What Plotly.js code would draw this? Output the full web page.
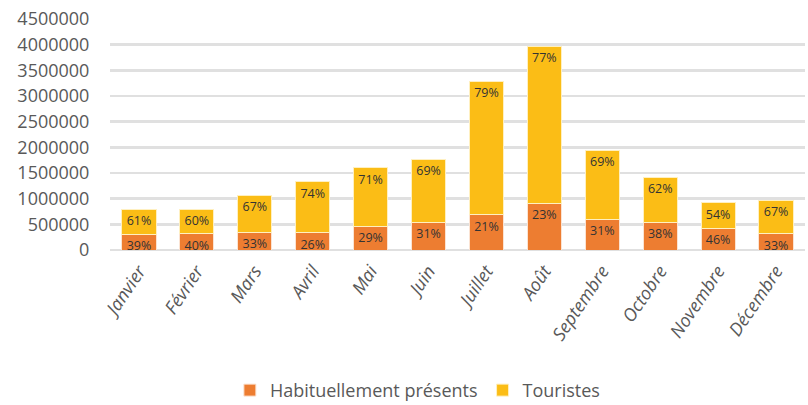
<!DOCTYPE html>
<html><head><meta charset="utf-8">
<script src="https://cdn.plot.ly/plotly-3.0.1.min.js"></script>
<style>html,body{margin:0;padding:0;background:#fff}#chart{width:808px;height:405px}</style>
</head><body><div id="chart"></div>
<script>
const months = ["Janvier","Février","Mars","Avril","Mai","Juin","Juillet","Août","Septembre","Octobre","Novembre","Décembre"];
const habituels = [305000, 315000, 350000, 340000, 460000, 545000, 690000, 915000, 595000, 540000, 420000, 320000];
const touristes = [485000, 475000, 715000, 990000, 1145000, 1220000, 2600000, 3055000, 1350000, 880000, 500000, 645000];
const pctHabituels = ["39%","40%","33%","26%","29%","31%","21%","23%","31%","38%","46%","33%"];
const pctTouristes = ["61%","60%","67%","74%","71%","69%","79%","77%","69%","62%","54%","67%"];

const labelFont = {family:"Open Sans, sans-serif", size:12.5, color:"#333333"};
const common = {type:"bar", x:months, textposition:"inside", insidetextanchor:"end",
  textfont:labelFont, constraintext:"none", hoverinfo:"skip"};
const data = [
  Object.assign({}, common, {name:"Habituellement présents", y:habituels, text:pctHabituels,
    marker:{color:"#ED7D31", line:{color:"#FBE3D2", width:1}}}),
  Object.assign({}, common, {name:"Touristes", y:touristes, text:pctTouristes,
    marker:{color:"#FBBD16", line:{color:"#FFF0C0", width:1}}})
];
const layout = {
  width:808, height:405,
  margin:{l:110, r:3, t:19, b:155},
  barmode:"stack", bargap:0.41,
  paper_bgcolor:"#fff", plot_bgcolor:"#fff",
  font:{family:"Open Sans, sans-serif", color:"#595959"},
  xaxis:{tickfont:{size:18, style:"italic", color:"#595959"}, tickangle:-56, showgrid:false,
    showline:false, ticks:"", ticklabelstandoff:6, automargin:false},
  yaxis:{range:[0,4500000], dtick:500000, tickformat:"d", showgrid:true, gridcolor:"#E0E0E0",
    gridwidth:2.5, zeroline:true, zerolinecolor:"#E0E0E0", zerolinewidth:2.5, showline:false,
    ticks:"outside", ticklen:16, tickcolor:"rgba(0,0,0,0)", tickfont:{size:18, color:"#595959"},
    automargin:false},
  legend:{orientation:"h", x:0.443, xanchor:"center", yref:"container", y:0.036, yanchor:"middle",
    font:{size:18, color:"#595959"}, traceorder:"normal", itemwidth:30},
  showlegend:true
};
Plotly.newPlot("chart", data, layout, {staticPlot:true});
</script></body></html>
